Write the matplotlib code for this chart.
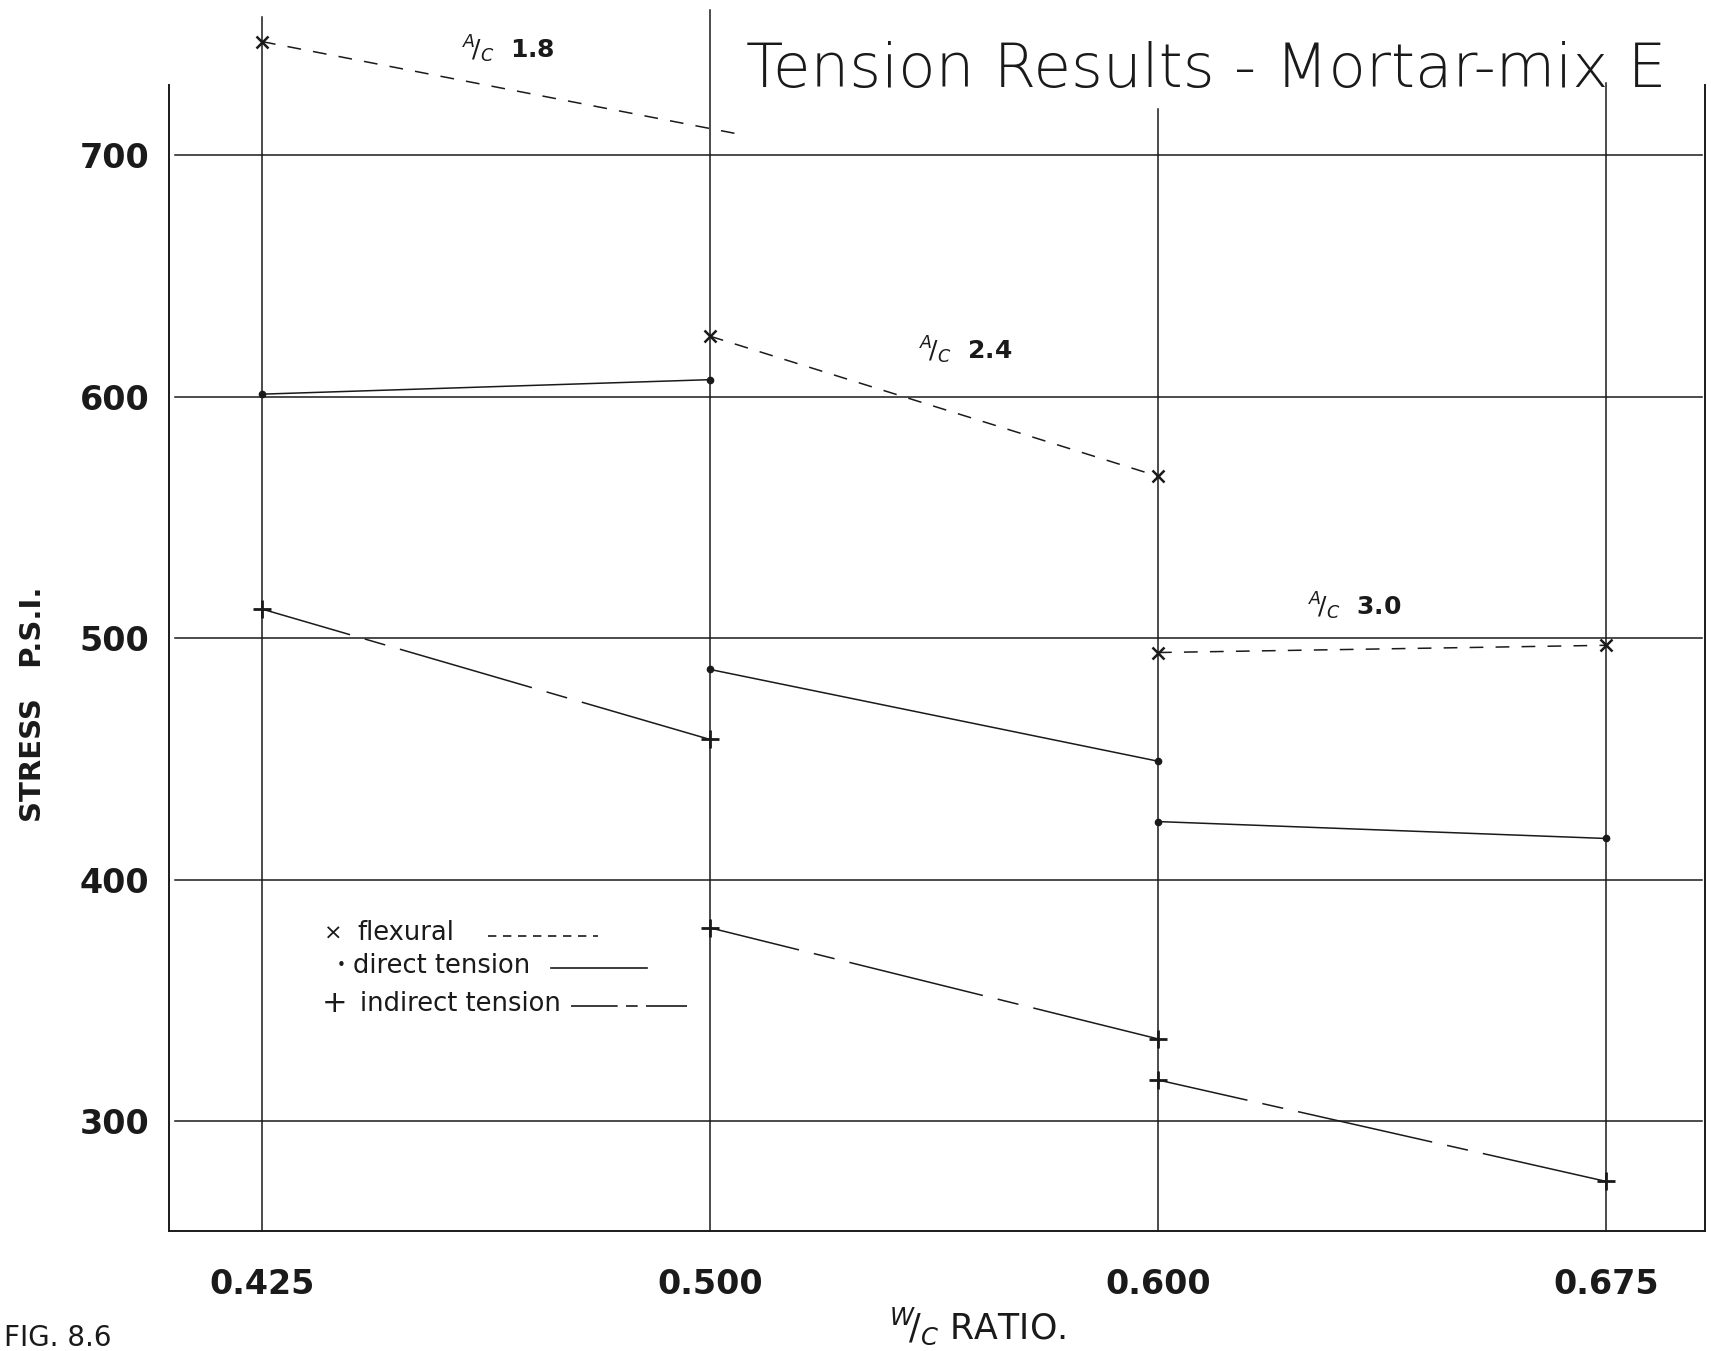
import matplotlib
matplotlib.use("Agg")
import matplotlib.pyplot as plt
import numpy as np

plt.rcParams['font.family'] = ['DejaVu Sans']

# Water/cement ratios tested (evenly spaced on the chart)
wc_labels = ["0.425", "0.500", "0.600", "0.675"]
stress_ticks = [300, 400, 500, 600, 700]

# Each aggregate/cement ratio was tested at two consecutive W/C ratios
ac_ratios = ["1.8", "2.4", "3.0"]
ac_wc_index = [[0, 1], [1, 2], [2, 3]]

# Stress (psi) for each A/C ratio
flexural = [[747, 711], [625, 567], [494, 497]]
direct_tension = [[601, 607], [487, 449], [424, 417]]
indirect_tension = [[512, 458], [380, 334], [317, 275]]

ink = "#1a1a1a"
fig = plt.figure(figsize=(17.11, 13.51), dpi=100, facecolor="white")
W, H = 1711, 1351
ax = fig.add_axes([169 / W, (H - 1231) / H, 1536 / W, (1231 - 16) / H])
ax.set_xlim(-0.2076, 3.221)
ax.set_ylim(254.45, 757.6)

# frame
ax.spines["top"].set_visible(False)
for s in ["left", "right", "bottom"]:
    ax.spines[s].set_color(ink)
    ax.spines[s].set_linewidth(1.4)
ax.spines["left"].set_bounds(254.45, 729)
ax.spines["right"].set_bounds(254.45, 729)

# grid
for v in stress_ticks:
    ax.axhline(v, xmin=0.004, xmax=0.998, color=ink, lw=1.1, zorder=1)
vtops = [757, 760, 719, 730]
for i, top in enumerate(vtops):
    ax.plot([i, i], [254.45, top], color=ink, lw=1.1, zorder=1, clip_on=False)

# ticks
ax.set_xticks(range(len(wc_labels)))
ax.set_xticklabels(wc_labels)
ax.set_yticks(stress_ticks)
ax.set_yticklabels([str(v) for v in stress_ticks])
ax.tick_params(axis="both", length=0, labelsize=24, colors=ink)
ax.tick_params(axis="y", pad=14)
ax.tick_params(axis="x", pad=27)
for lab in ax.get_xticklabels() + ax.get_yticklabels():
    lab.set_fontweight("bold")

flex_style = dict(color=ink, lw=1.1, dashes=(9, 8))
direct_style = dict(color=ink, lw=1.1, linestyle="-")
indirect_style = dict(color=ink, lw=1.1, linestyle=(30, (90, 10, 14, 10)))

for k, idx in enumerate(ac_wc_index):
    xs = np.array(idx, dtype=float)
    # flexural
    fy = np.array(flexural[k], dtype=float)
    if k == 0:
        # low W/C series: line carried a little past the 0.500 grid line
        slope = fy[1] - fy[0]
        ax.plot([xs[0], xs[1] + 0.06], [fy[0], fy[1] + slope * 0.06], **flex_style, zorder=3)
        ax.plot(xs[:1], fy[:1], linestyle="none", marker="x", ms=8, mew=1.8, color=ink, zorder=4)
    else:
        ax.plot(xs, fy, **flex_style, zorder=3)
        ax.plot(xs, fy, linestyle="none", marker="x", ms=8, mew=1.8, color=ink, zorder=4)
    # direct tension
    dy = direct_tension[k]
    ax.plot(xs, dy, **direct_style, zorder=3)
    ax.plot(xs, dy, linestyle="none", marker="o", ms=4.5, color=ink, zorder=4)
    # indirect tension
    iy = indirect_tension[k]
    ax.plot(xs, iy, **indirect_style, zorder=3)
    ax.plot(xs, iy, linestyle="none", marker="+", ms=13, mew=2, color=ink, zorder=4)

# A/C annotations
ac_pos = [(0.55, 744), (1.57, 619), (2.44, 513)]
for (x, y), r in zip(ac_pos, ac_ratios):
    ax.text(x, y, r"$^{A}\!/_{C}$  " + r, fontsize=18, fontweight="bold",
            ha="center", va="center", color=ink)

# hand lettered key
def fx(px):
    return px / W

def fy_(py):
    return 1 - py / H

fig.text(fx(333), fy_(934), "×", fontsize=16, ha="center", va="center", color=ink)
fig.text(fx(357), fy_(933), "flexural", fontsize=18.5, ha="left", va="center", color=ink)
fig.add_artist(plt.Line2D([fx(488), fx(598)], [fy_(936), fy_(936)], color=ink, lw=1.2, dashes=(5, 4)))

fig.text(fx(341), fy_(966), "•", fontsize=11, ha="center", va="center", color=ink)
fig.text(fx(353), fy_(966), "direct tension", fontsize=18.5, ha="left", va="center", color=ink)
fig.add_artist(plt.Line2D([fx(551), fx(647)], [fy_(968), fy_(968)], color=ink, lw=1.2))

fig.text(fx(335), fy_(1004), "+", fontsize=22, ha="center", va="center", color=ink)
fig.text(fx(360), fy_(1004), "indirect tension", fontsize=18.5, ha="left", va="center", color=ink)
fig.add_artist(plt.Line2D([fx(571), fx(687)], [fy_(1006), fy_(1006)], color=ink, lw=1.2,
                          dashes=(28, 5, 7, 5)))

# titles and axis labels
fig.text(fx(1206), fy_(71), "Tension Results - Mortar-mix E", fontsize=44,
         fontweight="light", ha="center", va="center", color=ink)
fig.text(fx(33), fy_(704), "STRESS   P.S.I.", fontsize=21, fontweight="bold",
         rotation=90, ha="center", va="center", color=ink)
fig.text(fx(977), fy_(1326), r"$^{W}\!/_{C}$ RATIO.", fontsize=25,
         ha="center", va="center", color=ink)
fig.text(fx(4), fy_(1338), "FIG. 8.6", fontsize=20, ha="left", va="center", color=ink)

fig.savefig("out.png", dpi=100, facecolor="white")
